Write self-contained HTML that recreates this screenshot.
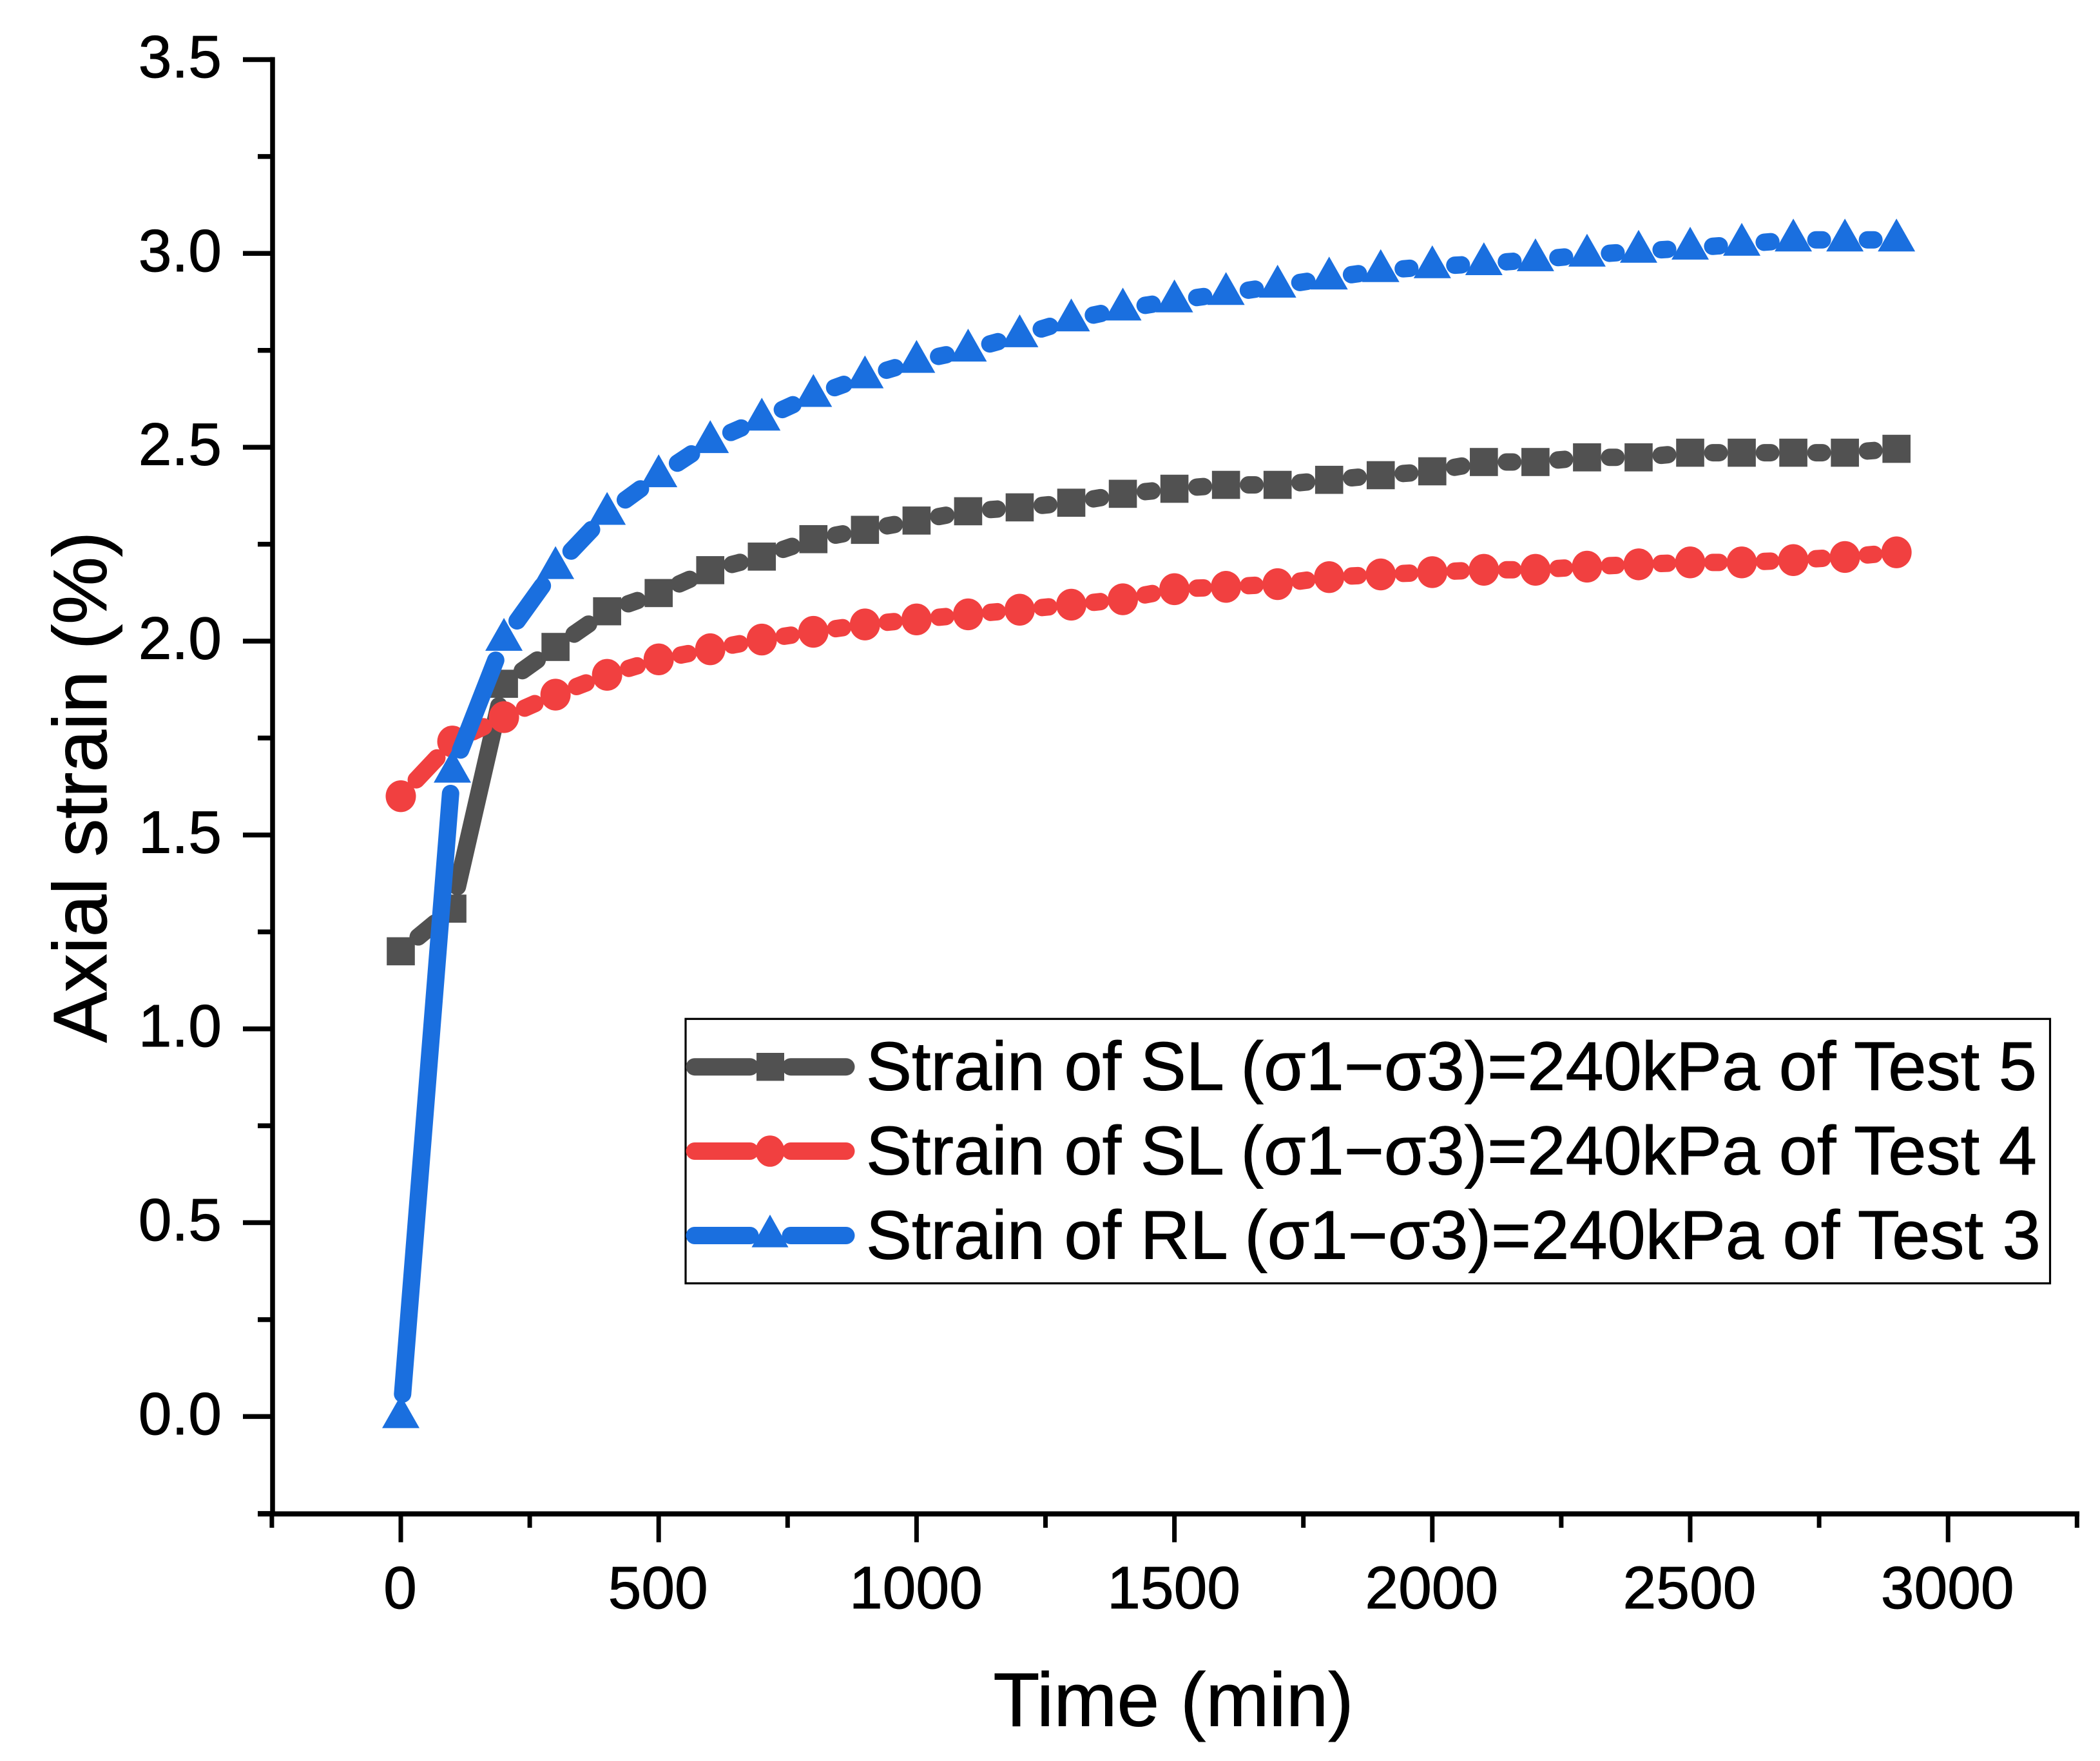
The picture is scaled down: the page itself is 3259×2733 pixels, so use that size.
<!DOCTYPE html>
<html lang="en">
<head>
<meta charset="utf-8">
<title>Axial strain vs time</title>
<style>
html,body{margin:0;padding:0;background:#fff;}
svg{display:block;}
text{font-family:"Liberation Sans",Arial,sans-serif;fill:#000;stroke:#000;stroke-width:1;}
</style>
</head>
<body>
<svg id="chart" xmlns="http://www.w3.org/2000/svg" width="3259" height="2733" viewBox="0 0 3259 2733">
  <rect x="0" y="0" width="3259" height="2733" fill="#ffffff"/>
  <g id="axes"></g>
  <g id="series"></g>
  <text x="1821" y="2678.5" font-size="118" text-anchor="middle">Time (min)</text>
  <text transform="translate(165,1221.5) rotate(-90)" font-size="118" text-anchor="middle">Axial strain (%)</text>
  <g>
    <rect x="1064" y="1581.3" width="2117.5" height="410.4" fill="#ffffff" stroke="#000000" stroke-width="3.2"/>
    <g>
      <line x1="1078" y1="1655.7" x2="1164" y2="1655.7" stroke="#515151" stroke-width="27" stroke-linecap="round"/>
      <line x1="1227" y1="1655.7" x2="1313" y2="1655.7" stroke="#515151" stroke-width="27" stroke-linecap="round"/>
      <rect x="1174" y="1634" width="43" height="43.4" fill="#515151"/>
      <text x="1344" y="1691.7" font-size="106.4">Strain of SL (σ1−σ3)=240kPa of Test 5</text>
    </g>
    <g>
      <line x1="1078" y1="1786.5" x2="1164" y2="1786.5" stroke="#F14040" stroke-width="27" stroke-linecap="round"/>
      <line x1="1227" y1="1786.5" x2="1313" y2="1786.5" stroke="#F14040" stroke-width="27" stroke-linecap="round"/>
      <ellipse cx="1195" cy="1786.5" rx="22.5" ry="24.3" fill="#F14040"/>
      <text x="1344" y="1822.5" font-size="106.4">Strain of SL (σ1−σ3)=240kPa of Test 4</text>
    </g>
    <g>
      <line x1="1078" y1="1917.5" x2="1164" y2="1917.5" stroke="#1A6FDF" stroke-width="27" stroke-linecap="round"/>
      <line x1="1227" y1="1917.5" x2="1313" y2="1917.5" stroke="#1A6FDF" stroke-width="27" stroke-linecap="round"/>
      <polygon points="1195,1885 1223.5,1935.7 1166.5,1935.7" fill="#1A6FDF"/>
      <text x="1344" y="1953.5" font-size="106.4">Strain of RL (σ1−σ3)=240kPa of Test 3</text>
    </g>
  </g>
</svg>
<script>
const timeMinutes = [0,100,200,300,400,500,600,700,800,900,1000,1100,1200,1300,1400,1500,1600,1700,1800,1900,2000,2100,2200,2300,2400,2500,2600,2700,2800,2900];
const strainTest5 = [1.20,1.31,1.89,1.985,2.077,2.124,2.183,2.218,2.263,2.287,2.311,2.335,2.345,2.357,2.380,2.393,2.403,2.403,2.416,2.428,2.438,2.462,2.462,2.474,2.474,2.486,2.486,2.486,2.486,2.496];
const strainTest4 = [1.60,1.741,1.804,1.862,1.913,1.953,1.979,2.004,2.024,2.043,2.056,2.069,2.081,2.094,2.108,2.134,2.140,2.147,2.165,2.172,2.178,2.184,2.184,2.192,2.198,2.203,2.203,2.209,2.217,2.229];
const strainTest3 = [0,1.665,2.005,2.19,2.33,2.427,2.515,2.573,2.634,2.682,2.722,2.751,2.788,2.829,2.857,2.878,2.897,2.916,2.937,2.956,2.966,2.974,2.984,2.996,3.006,3.014,3.024,3.035,3.035,3.035];
const xMajorTicks = [0,500,1000,1500,2000,2500,3000];
const xMinorTicks = [-250,250,750,1250,1750,2250,2750,3250];
const yMajorTicks = [0,0.5,1,1.5,2,2.5,3,3.5];
const yMinorTicks = [-0.25,0.25,0.75,1.25,1.75,2.25,2.75,3.25];

const SVG_NS = 'http://www.w3.org/2000/svg';
function xScale(v){ return 622 + v * 0.8004; }
function yScale(v){ return 2198.4 - v * 601.7; }

function make(tag, attrs, parent){
  const el = document.createElementNS(SVG_NS, tag);
  for (const k in attrs) el.setAttribute(k, attrs[k]);
  parent.appendChild(el);
  return el;
}

const axesGroup = document.getElementById('axes');
const seriesGroup = document.getElementById('series');

const yAxisLine = make('line', {x1:423, y1:88.6, x2:423, y2:2353, stroke:'#000', 'stroke-width':7.5}, axesGroup);



const xAxisLine = make('line', {x1:400, y1:2349.5, x2:3227, y2:2349.5, stroke:'#000', 'stroke-width':8}, axesGroup);



yMajorTicks.forEach(function(v){
  const tick = make('line', {x1:377, y1:yScale(v), x2:423, y2:yScale(v), stroke:'#000', 'stroke-width':7.5}, axesGroup);
  
  
  const label = make('text', {x:344, y:yScale(v) + 27.5, 'font-size':93, 'text-anchor':'end'}, axesGroup);
  label.textContent = v.toFixed(1);
  
  
});

yMinorTicks.forEach(function(v){
  const tick = make('line', {x1:400, y1:yScale(v), x2:423, y2:yScale(v), stroke:'#000', 'stroke-width':7.5}, axesGroup);
  
  
});

xMajorTicks.forEach(function(v){
  const tick = make('line', {x1:xScale(v), y1:2349.5, x2:xScale(v), y2:2393.5, stroke:'#000', 'stroke-width':7}, axesGroup);
  
  
  const label = make('text', {x:xScale(v) - 1, y:2496, 'font-size':93, 'text-anchor':'middle'}, axesGroup);
  label.textContent = String(v);
  
  
});

xMinorTicks.forEach(function(v){
  const tick = make('line', {x1:xScale(v), y1:2349.5, x2:xScale(v), y2:2371, stroke:'#000', 'stroke-width':7}, axesGroup);
  
  
});

function drawMarker(shape, cx, cy, color, parent){
  if (shape === 'square') {
    return make('rect', {x:cx - 21.8, y:cy - 21.8, width:43.6, height:43.6, fill:color}, parent);
  }
  if (shape === 'circle') {
    return make('ellipse', {cx:cx, cy:cy, rx:23.5, ry:24.7, fill:color}, parent);
  }
  const pts = cx + ',' + (cy - 33) + ' ' + (cx + 29) + ',' + (cy + 18) + ' ' + (cx - 29) + ',' + (cy + 18);
  return make('polygon', {points:pts, fill:color}, parent);
}

function drawSeries(values, color, shape){
  const group = make('g', {}, seriesGroup);
  
  
  const trim = 35;
  for (let i = 0; i < values.length - 1; i++) {
    const x1 = xScale(timeMinutes[i]), y1 = yScale(values[i]);
    const x2 = xScale(timeMinutes[i + 1]), y2 = yScale(values[i + 1]);
    const len = Math.hypot(x2 - x1, y2 - y1);
    const ux = (x2 - x1) / len, uy = (y2 - y1) / len;
    const seg = make('line', {x1:x1 + ux * trim, y1:y1 + uy * trim, x2:x2 - ux * trim, y2:y2 - uy * trim, stroke:color, 'stroke-width':27, 'stroke-linecap':'round'}, group);
    
    
  }
  values.forEach(function(v, i){
    const marker = drawMarker(shape, xScale(timeMinutes[i]), yScale(v), color, group);
    
    
  });
}

drawSeries(strainTest5, '#515151', 'square');
drawSeries(strainTest4, '#F14040', 'circle');
drawSeries(strainTest3, '#1A6FDF', 'triangle');
</script>
</body>
</html>
